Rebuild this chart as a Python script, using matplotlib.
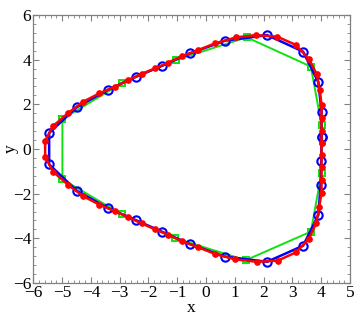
import matplotlib
matplotlib.use("Agg")
import matplotlib.pyplot as plt
from matplotlib.ticker import MultipleLocator

# Green polygon (square markers)
green_x = [-4.99, -2.93, -1.06, 1.41, 3.64, 4.01, 4.01, 3.64, 1.38, -1.07, -2.93, -4.99, -4.99]
green_y = [1.34, 2.94, 3.98, 5.00, 3.69, 1.07, -1.07, -3.70, -4.98, -4.00, -2.92, -1.36, 1.34]

# Blue polygon (open circles)
blue_x = [4.01, 4.01, 3.90, 3.37, 2.12, 0.66, -0.56, -1.52, -2.43, -3.42, -4.49, -5.45,
          -5.45, -4.49, -3.42, -2.45, -1.54, -0.56, 0.66, 2.12, 3.37, 3.90, 3.98, 4.00, 4.01]
blue_y = [0.55, 1.67, 2.99, 4.36, 5.10, 4.85, 4.28, 3.73, 3.24, 2.64, 1.87, 0.72,
          -0.69, -1.87, -2.64, -3.18, -3.70, -4.26, -4.82, -5.05, -4.33, -2.96, -1.61, -0.52, 0.55]

# Red polygon (filled dots)
red_x = [4.01, 4.01, 4.01, 4.01, 3.95, 3.84, 3.57, 3.12, 2.47, 1.73, 1.05, 0.31,
         -0.27, -0.83, -1.31, -1.77, -2.24, -2.70, -3.16, -3.71, -4.26, -4.78, -5.31, -5.59,
         -5.59, -5.31, -4.78, -4.26, -3.71, -3.16, -2.70, -2.24, -1.77, -1.31, -0.85, -0.27,
         0.31, 1.00, 1.76, 2.49, 3.12, 3.57, 3.82, 3.93, 4.01, 4.01, 4.01, 4.01, 4.01]
red_y = [0.25, 0.82, 1.37, 1.97, 2.64, 3.36, 4.03, 4.66, 5.03, 5.10, 5.00, 4.73,
         4.43, 4.16, 3.87, 3.61, 3.36, 3.09, 2.79, 2.49, 2.12, 1.62, 1.03, 0.37,
         -0.35, -1.02, -1.62, -2.12, -2.49, -2.79, -3.06, -3.33, -3.60, -3.85, -4.12, -4.40,
         -4.70, -4.94, -5.05, -5.00, -4.63, -4.03, -3.33, -2.61, -1.96, -1.37, -0.82, -0.25, 0.25]

x_ticks = [-6, -5, -4, -3, -2, -1, 0, 1, 2, 3, 4, 5]
y_ticks = [-6, -4, -2, 0, 2, 4, 6]

plt.rcParams['font.family'] = ['Liberation Serif', 'DejaVu Serif']
plt.rcParams['axes.unicode_minus'] = True

fig = plt.figure(figsize=(3.59, 3.19), dpi=100)
ax = fig.add_axes([0.0928, 0.1129, 0.8822, 0.8401])

ax.plot(green_x, green_y, color='#11e011', lw=1.4, marker='s', ms=5,
        mfc='none', mec='#11e011', mew=1.4, zorder=2)
ax.plot(blue_x, blue_y, color='#0000ff', lw=1.8, marker='o', ms=6,
        mfc='none', mec='#0000ff', mew=1.5, zorder=3)
ax.plot(red_x, red_y, color='#ff0000', lw=1.8, marker='o', ms=3.8,
        mfc='#ff0000', mec='#ff0000', zorder=4)

ax.set_xlim(-6, 5)
ax.set_ylim(-6, 6)
ax.set_xticks(x_ticks)
ax.set_yticks(y_ticks)
ax.xaxis.set_minor_locator(MultipleLocator(0.2))
ax.yaxis.set_minor_locator(MultipleLocator(0.4))
ax.tick_params(which='both', direction='in', top=True, right=True,
               color='#808080', labelsize=12.5)
ax.tick_params(which='major', length=4, width=0.8, pad=1.5)
ax.tick_params(which='minor', length=2, width=0.6)
for s in ax.spines.values():
    s.set_color('#808080')
    s.set_linewidth(0.9)

ax.set_xlabel('x', fontsize=12.5, labelpad=-1)
ax.set_ylabel('y', fontsize=12.5)
ax.yaxis.set_label_coords(-0.045, 0.5)

fig.savefig('out.png', dpi=100)
